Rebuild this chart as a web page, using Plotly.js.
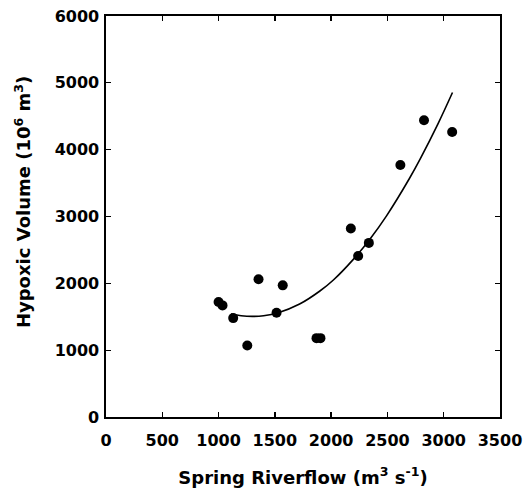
<!DOCTYPE html>
<html>
<head>
<meta charset="utf-8">
<script src="https://cdn.plot.ly/plotly-3.0.1.min.js"></script>
<style>html,body{margin:0;padding:0;background:#fff;}#chart{width:523px;height:493px;}</style>
</head>
<body>
<div id="chart"></div>
<script>
// Observed data points
var riverflow = [1000, 1035, 1130, 1255, 1355, 1515, 1570, 1870, 1905, 2175, 2240, 2335, 2615, 2825, 3075];
var hypoxicVolume = [1720, 1670, 1480, 1070, 2060, 1560, 1970, 1180, 1180, 2820, 2410, 2605, 3770, 4440, 4265];

// Fitted curve
var fitFlow = [1110, 1200, 1300, 1400, 1530, 1720, 1900, 2020, 2195, 2344, 2492, 2694, 2789, 2950, 3078];
var fitVolume = [1540, 1515, 1505, 1515, 1560, 1690, 1885, 2050, 2355, 2660, 3010, 3565, 3855, 4390, 4855];

var xTicks = [0, 500, 1000, 1500, 2000, 2500, 3000, 3500];
var yTicks = [0, 1000, 2000, 3000, 4000, 5000, 6000];

var xTitle = 'Spring Riverflow (m<sup>3</sup> s<sup>-1</sup>)';
var yTitle = 'Hypoxic Volume (10<sup>6</sup> m<sup>3</sup>)';

var fontFam = 'DejaVu Sans, Arial, sans-serif';

var traces = [
  {x: fitFlow, y: fitVolume, mode: 'lines', type: 'scatter',
   line: {color: '#000', width: 1.6, shape: 'spline', smoothing: 1}, hoverinfo: 'skip'},
  {x: riverflow, y: hypoxicVolume, mode: 'markers', type: 'scatter',
   marker: {color: '#000', size: 10}}
];

var axisCommon = {
  showline: true, linecolor: '#000', linewidth: 1.6, mirror: 'ticks',
  ticks: 'inside', ticklen: 5, tickwidth: 1.3, tickcolor: '#000',
  showgrid: false, zeroline: false,
  tickfont: {family: fontFam, size: 16, color: '#000', weight: 'bold'}
};

var layout = {
  width: 523, height: 493,
  margin: {l: 106, r: 23, t: 16, b: 76},
  paper_bgcolor: '#fff', plot_bgcolor: '#fff',
  showlegend: false,
  xaxis: Object.assign({}, axisCommon, {
    range: [0, 3500], tickvals: xTicks, ticktext: xTicks.map(String),
    ticklabelstandoff: 8,
    title: {text: xTitle, font: {family: fontFam, size: 18, color: '#000', weight: 'bold'}, standoff: 22}
  }),
  yaxis: Object.assign({}, axisCommon, {
    range: [0, 6000], tickvals: yTicks, ticktext: yTicks.map(String),
    ticklabelstandoff: 2
  }),
  annotations: [{
    text: yTitle, textangle: -90, showarrow: false,
    xref: 'paper', yref: 'paper', x: 0, y: 0.536,
    xanchor: 'center', yanchor: 'middle', xshift: -83,
    font: {family: fontFam, size: 18, color: '#000', weight: 'bold'}
  }]
};

Plotly.newPlot('chart', traces, layout, {displayModeBar: false, staticPlot: true});
</script>
</body>
</html>
